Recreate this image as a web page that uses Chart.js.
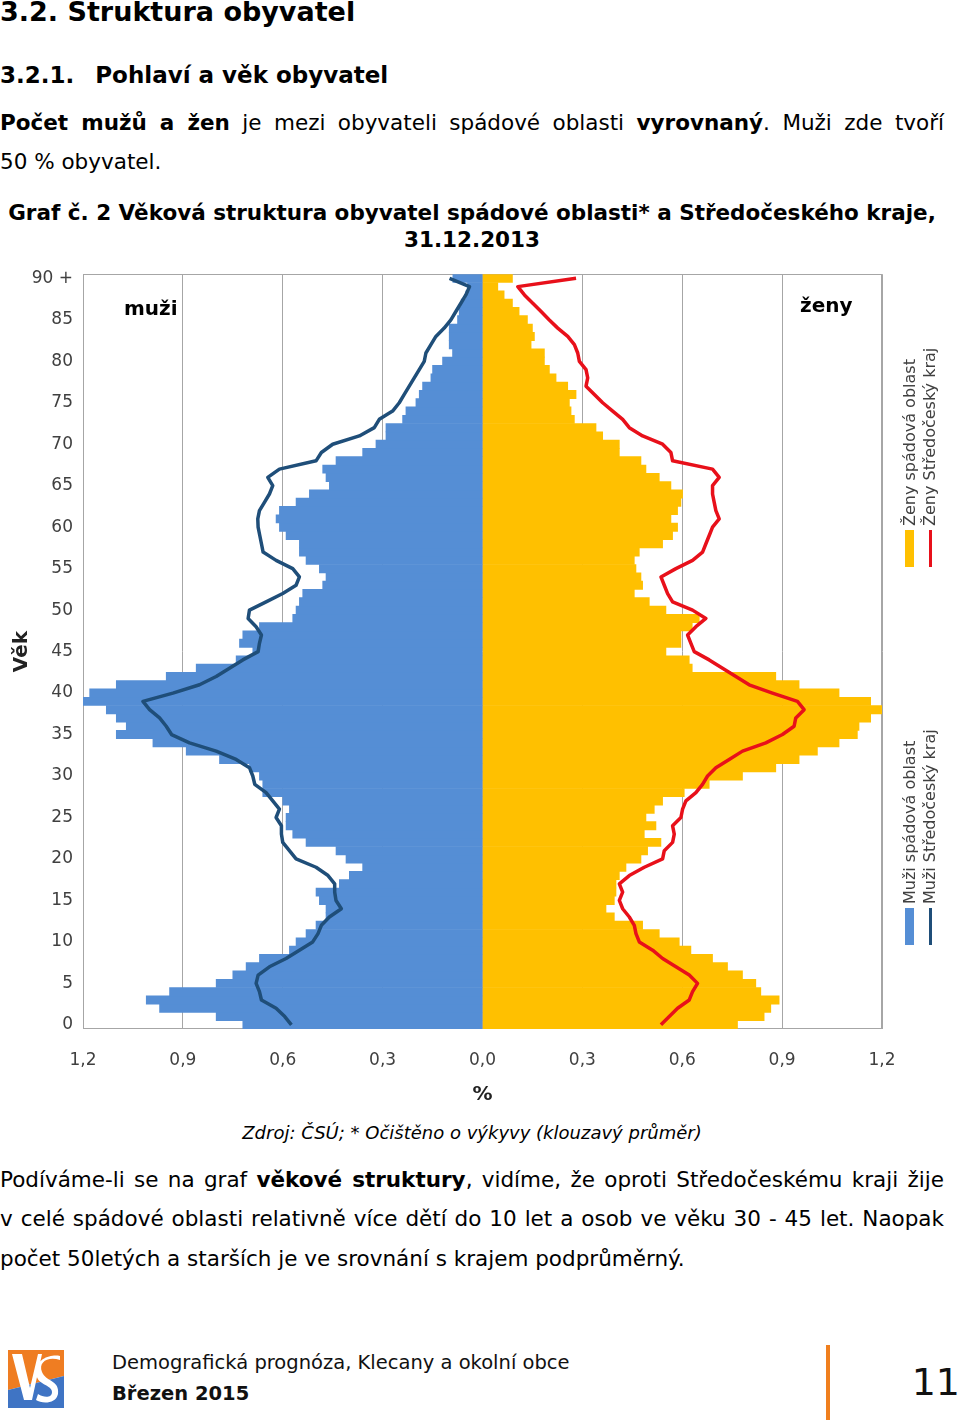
<!DOCTYPE html>
<html lang="cs">
<head>
<meta charset="utf-8">
<title>Věková struktura obyvatel</title>
<script src="https://cdn.jsdelivr.net/npm/chart.js@4.4.1/dist/chart.umd.min.js"></script>
<style>
  html, body { margin: 0; padding: 0; }
  body { width: 960px; height: 1420px; position: relative; background: #fff; font-family: 'DejaVu Sans', Verdana, sans-serif; color: #000; overflow: hidden; }
  .abs { position: absolute; white-space: nowrap; }
  .just { position: absolute; left: 0; width: 944px; text-align: justify; text-align-last: justify; white-space: nowrap; }
  .rot { position: absolute; white-space: nowrap; transform-origin: 0 0; transform: rotate(-90deg); font-size: 16px; line-height: 18px; color: #404040; }
  #chartBox { position: absolute; left: 0; top: 262px; width: 960px; height: 860px; }
</style>
</head>
<body>

<div class="abs" style="left:0; top:-2px; font-size:27px; line-height:27px; font-weight:bold;">3.2. Struktura obyvatel</div>
<div class="abs" style="left:0; top:64px; font-size:23px; line-height:23px; font-weight:bold;">3.2.1.<span style="display:inline-block; width:21px;"></span>Pohlaví a věk obyvatel</div>

<div class="just" style="top:112px; font-size:21.5px; line-height:22px;"><b>Počet mužů a žen</b> je mezi obyvateli spádové oblasti <b>vyrovnaný</b>. Muži zde tvoří</div>
<div class="abs" style="left:0; top:151px; font-size:21.5px; line-height:22px;">50 % obyvatel.</div>

<div class="abs" style="left:0; width:944px; text-align:center; top:202px; font-size:21.5px; line-height:22px; font-weight:bold;">Graf č. 2 Věková struktura obyvatel spádové oblasti* a Středočeského kraje,</div>
<div class="abs" style="left:0; width:944px; text-align:center; top:229px; font-size:21.5px; line-height:22px; font-weight:bold;">31.12.2013</div>

<div id="chartBox"><canvas id="pyramid"></canvas></div>

<div class="abs" style="left:124px; top:298px; font-size:20px; line-height:20px; font-weight:bold;">muži</div>
<div class="abs" style="left:800px; top:295px; font-size:20px; line-height:20px; font-weight:bold;">ženy</div>

<!-- legend, rotated -->
<div class="abs" style="left:905px; top:530px; width:9px; height:37px; background:#ffc000;"></div>
<div class="abs" style="left:929px; top:530px; width:3px; height:37px; background:#e8101a;"></div>
<div class="rot" style="left:901px; top:526px;">Ženy spádová oblast</div>
<div class="rot" style="left:921px; top:526px;">Ženy Středočeský kraj</div>

<div class="abs" style="left:905px; top:908px; width:9px; height:37px; background:#558ed5;"></div>
<div class="abs" style="left:929px; top:908px; width:3px; height:37px; background:#1f4e79;"></div>
<div class="rot" style="left:901px; top:904px;">Muži spádová oblast</div>
<div class="rot" style="left:921px; top:904px;">Muži Středočeský kraj</div>

<div class="abs" style="left:0; width:944px; text-align:center; top:1124px; font-size:18px; line-height:18px; font-style:italic;">Zdroj: ČSÚ; * Očištěno o výkyvy (klouzavý průměr)</div>

<div class="just" style="top:1169px; font-size:21.5px; line-height:22px;">Podíváme-li se na graf <b>věkové struktury</b>, vidíme, že oproti Středočeskému kraji žije</div>
<div class="just" style="top:1208px; font-size:21.5px; line-height:22px;">v celé spádové oblasti relativně více dětí do 10 let a osob ve věku 30 - 45 let. Naopak</div>
<div class="abs" style="left:0; top:1248px; font-size:21.5px; line-height:22px;">počet 50letých a starších je ve srovnání s krajem podprůměrný.</div>

<!-- footer -->
<svg class="abs" style="left:8px; top:1350px;" width="56" height="58" viewBox="0 0 56 58">
  <rect x="0" y="0" width="56" height="58" fill="#ffffff"/>
  <polygon points="0,0 56,0 56,26 0,40" fill="#ef7d22"/>
  <polygon points="0,40 56,26 56,58 0,58" fill="#3f74c4"/>
  <polygon points="4,4 14,4 22,38 30,4 34,4 24,50 16,50" fill="#ffffff"/>
  <path d="M52,10 C40,6 30,12 34,22 C38,32 52,30 50,44 C48,54 34,54 28,50 L30,44 C36,48 44,48 44,42 C44,34 28,36 28,22 C28,8 44,4 52,6 Z" fill="#ffffff"/>
</svg>
<div class="abs" style="left:112px; top:1353px; font-size:19.5px; line-height:20px; color:#111;">Demografická prognóza, Klecany a okolní obce</div>
<div class="abs" style="left:112px; top:1384px; font-size:19.5px; line-height:20px; font-weight:bold; color:#111;">Březen 2015</div>
<div class="abs" style="left:826px; top:1345px; width:4px; height:75px; background:#f07f1e;"></div>
<div class="abs" style="right:0; top:1363px; font-size:38px; line-height:38px; color:#111;">11</div>

<script>
  // ages 0 .. 90+ (bottom to top)
  const ages = Array.from({ length: 91 }, (_, i) => i === 90 ? '90 +' : String(i));

  // % of population, spádová oblast (bars)
  const menArea = [
    0.72, 0.80, 0.97, 1.01, 0.94, 0.80, 0.75, 0.71, 0.67, 0.58,
    0.56, 0.53, 0.50, 0.47, 0.47, 0.49, 0.50, 0.43, 0.40, 0.36,
    0.41, 0.44, 0.53, 0.57, 0.59, 0.59, 0.58, 0.60, 0.66, 0.66,
    0.67, 0.70, 0.79, 0.89, 0.99, 1.10, 1.07, 1.10, 1.13, 1.20,
    1.18, 1.10, 0.95, 0.86, 0.74, 0.69, 0.73, 0.72, 0.67, 0.57,
    0.56, 0.55, 0.54, 0.48, 0.47, 0.49, 0.53, 0.55, 0.55, 0.59,
    0.61, 0.62, 0.61, 0.56, 0.52, 0.46, 0.47, 0.48, 0.44, 0.36,
    0.32, 0.29, 0.29, 0.24, 0.23, 0.20, 0.19, 0.18, 0.155, 0.15,
    0.12, 0.09, 0.10, 0.10, 0.10, 0.075, 0.07, 0.064, 0.05, 0.045,
    0.089
  ];
  const womenArea = [
    0.766, 0.846, 0.866, 0.891, 0.836, 0.821, 0.781, 0.736, 0.691, 0.626,
    0.591, 0.531, 0.481, 0.396, 0.371, 0.396, 0.401, 0.401, 0.411, 0.431,
    0.476, 0.496, 0.536, 0.486, 0.521, 0.491, 0.516, 0.541, 0.606, 0.681,
    0.781, 0.881, 0.951, 1.006, 1.071, 1.126, 1.131, 1.166, 1.20, 1.166,
    1.071, 0.951, 0.881, 0.63, 0.621, 0.551, 0.596, 0.596, 0.63, 0.651,
    0.551, 0.501, 0.456, 0.481, 0.476, 0.461, 0.456, 0.471, 0.541, 0.571,
    0.586, 0.566, 0.586, 0.596, 0.601, 0.566, 0.531, 0.491, 0.476, 0.411,
    0.411, 0.361, 0.341, 0.276, 0.266, 0.261, 0.281, 0.256, 0.221, 0.201,
    0.186, 0.186, 0.146, 0.156, 0.15, 0.135, 0.11, 0.09, 0.065, 0.046,
    0.09
  ];

  // % of population, Středočeský kraj (lines)
  const menRegion = [
    0.574, 0.594, 0.62, 0.664, 0.67, 0.68, 0.674, 0.64, 0.59, 0.55,
    0.51, 0.494, 0.484, 0.46, 0.424, 0.44, 0.444, 0.444, 0.464, 0.50,
    0.56, 0.58, 0.60, 0.604, 0.604, 0.62, 0.61, 0.63, 0.65, 0.684,
    0.69, 0.70, 0.74, 0.80, 0.88, 0.934, 0.95, 0.97, 1.00, 1.02,
    0.93, 0.85, 0.80, 0.76, 0.72, 0.674, 0.67, 0.664, 0.68, 0.704,
    0.70, 0.65, 0.60, 0.56, 0.55, 0.57, 0.62, 0.659, 0.664, 0.669,
    0.674, 0.675, 0.67, 0.655, 0.64, 0.63, 0.645, 0.61, 0.50, 0.484,
    0.45, 0.37, 0.325, 0.31, 0.27, 0.25, 0.235, 0.22, 0.205, 0.19,
    0.175, 0.17, 0.155, 0.14, 0.115, 0.095, 0.08, 0.065, 0.05, 0.039,
    0.099
  ];
  const womenRegion = [
    0.536, 0.561, 0.586, 0.621, 0.631, 0.646, 0.621, 0.581, 0.541, 0.511,
    0.471, 0.461, 0.456, 0.441, 0.421, 0.411, 0.421, 0.411, 0.441, 0.486,
    0.541, 0.546, 0.571, 0.576, 0.571, 0.596, 0.601, 0.611, 0.641, 0.661,
    0.676, 0.701, 0.741, 0.781, 0.851, 0.901, 0.936, 0.941, 0.966, 0.946,
    0.871, 0.801, 0.761, 0.721, 0.681, 0.636, 0.626, 0.616, 0.641, 0.671,
    0.631, 0.571, 0.556, 0.546, 0.536, 0.581, 0.631, 0.661, 0.671, 0.681,
    0.691, 0.711, 0.701, 0.696, 0.691, 0.691, 0.711, 0.691, 0.571, 0.566,
    0.541, 0.481, 0.441, 0.421, 0.391, 0.361, 0.336, 0.311, 0.316, 0.311,
    0.291, 0.286, 0.276, 0.256, 0.226, 0.20, 0.176, 0.151, 0.126, 0.106,
    0.281
  ];

  const xTicks = [-1.2, -0.9, -0.6, -0.3, 0, 0.3, 0.6, 0.9, 1.2];

  const gridGrey = '#a6a6a6';
  const labelGrey = '#404040';

  Chart.defaults.font.family = "'DejaVu Sans', Verdana, sans-serif";

  // thin frame round the plot area
  const plotFrame = {
    id: 'plotFrame',
    beforeDatasetsDraw(chart) {
      const { ctx, chartArea: a } = chart;
      ctx.save();
      ctx.strokeStyle = gridGrey;
      ctx.lineWidth = 1;
      ctx.strokeRect(Math.round(a.left) + 0.5, Math.round(a.top) + 0.5,
                     Math.round(a.right - a.left) - 1, Math.round(a.bottom - a.top) - 1);
      ctx.restore();
    }
  };

  new Chart(document.getElementById('pyramid'), {
    data: {
      labels: ages,
      datasets: [
        {
          type: 'line',
          label: 'Muži Středočeský kraj',
          data: menRegion.map(v => -v),
          borderColor: '#1f4e79',
          borderWidth: 3.5,
          pointRadius: 0,
          tension: 0,
          borderJoinStyle: 'round',
          order: 0
        },
        {
          type: 'line',
          label: 'Ženy Středočeský kraj',
          data: womenRegion,
          borderColor: '#e8101a',
          borderWidth: 3.5,
          pointRadius: 0,
          tension: 0,
          borderJoinStyle: 'round',
          order: 0
        },
        {
          type: 'bar',
          label: 'Muži spádová oblast',
          data: menArea.map(v => -v),
          backgroundColor: '#558ed5',
          grouped: false,
          barPercentage: 1,
          categoryPercentage: 1,
          borderWidth: 0,
          order: 1
        },
        {
          type: 'bar',
          label: 'Ženy spádová oblast',
          data: womenArea,
          backgroundColor: '#ffc000',
          grouped: false,
          barPercentage: 1,
          categoryPercentage: 1,
          borderWidth: 0,
          order: 1
        }
      ]
    },
    options: {
      indexAxis: 'y',
      responsive: true,
      maintainAspectRatio: false,
      animation: false,
      layout: { padding: { left: 0, right: 78, top: 4, bottom: 0 } },
      plugins: {
        legend: { display: false },
        tooltip: { enabled: false }
      },
      scales: {
        x: {
          type: 'linear',
          min: -1.2,
          max: 1.2,
          afterFit: scale => { scale.height = 93; },
          afterBuildTicks: scale => { scale.ticks = xTicks.map(v => ({ value: v })); },
          ticks: {
            padding: 21,
            color: labelGrey,
            font: { size: 17 },
            callback: v => Math.abs(v).toFixed(1).replace('.', ',')
          },
          grid: { color: gridGrey, drawTicks: false, lineWidth: 1 },
          border: { display: false },
          title: {
            display: true,
            text: '%',
            color: '#222',
            font: { size: 20, weight: 'bold' },
            padding: { top: 0, bottom: 15 }
          }
        },
        y: {
          type: 'category',
          reverse: true,
          afterFit: scale => { scale.width = 83; },
          ticks: {
            autoSkip: false,
            padding: 2,
            color: labelGrey,
            font: { size: 17 },
            callback: (val, idx) => idx % 5 === 0 ? ages[idx] : null
          },
          grid: { display: false },
          border: { display: false },
          title: {
            display: true,
            text: 'Věk',
            color: '#222',
            font: { size: 20, weight: 'bold' },
            padding: { top: 10, bottom: 0 }
          }
        }
      }
    },
    plugins: [plotFrame]
  });
</script>
</body>
</html>
